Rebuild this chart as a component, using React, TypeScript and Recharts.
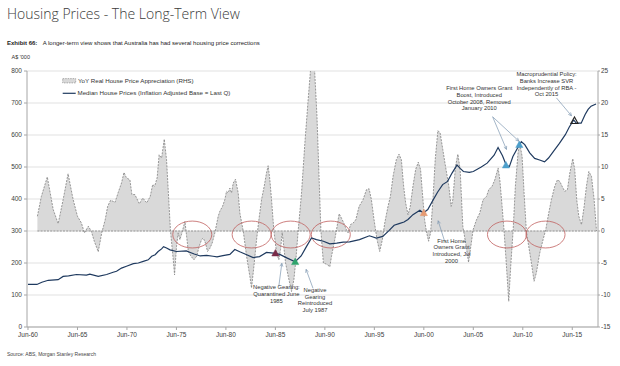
import React from 'react';
import { ComposedChart, Area, Line, XAxis, YAxis, CartesianGrid, ReferenceLine, ReferenceDot, ReferenceArea } from 'recharts';

const FONT = '"Liberation Sans Narrow", "Liberation Sans", Arial, sans-serif';

// YoY real house price appreciation (% , RHS)
const yoyYears = [
  1961.45, 1961.85, 1962.45, 1963.05, 1963.55, 1964.05, 1964.55, 1965.05, 1965.5, 1965.9,
  1966.2, 1966.6, 1966.9, 1967.2, 1967.6, 1967.95, 1968.3, 1968.55, 1968.85, 1969.3,
  1969.6, 1969.95, 1970.2, 1970.45, 1970.8, 1971.0, 1971.3, 1971.75, 1972.1, 1972.5,
  1972.85, 1973.1, 1973.3, 1973.55, 1973.75, 1974.0, 1974.27, 1974.5, 1974.9, 1975.18,
  1975.31, 1975.51, 1975.68, 1975.85, 1976.02, 1976.36, 1976.53, 1976.7, 1976.97, 1977.27,
  1977.54, 1977.8, 1978.04, 1978.21, 1978.44, 1978.64, 1978.88, 1979.11, 1979.38, 1979.72,
  1979.89, 1980.16, 1980.39, 1980.56, 1980.73, 1980.9, 1981.07, 1981.24, 1981.47, 1981.74,
  1981.91, 1982.25, 1982.59, 1982.92, 1983.09, 1983.33, 1983.6, 1983.83, 1984.1, 1984.37,
  1984.6, 1984.77, 1984.94, 1985.11, 1985.35, 1985.62, 1985.85, 1986.02, 1986.19, 1986.53,
  1986.8, 1987.13, 1987.37, 1987.57, 1987.8, 1988.14, 1988.48, 1988.81, 1989.3, 1989.7,
  1990.1, 1990.35, 1990.7, 1991.0, 1991.17, 1991.5, 1991.74, 1991.94, 1992.18, 1992.41,
  1992.68, 1992.85, 1993.09, 1993.36, 1993.62, 1993.96, 1994.36, 1994.7, 1994.97, 1995.2,
  1995.47, 1995.77, 1996.04, 1996.31, 1996.55, 1996.88, 1997.12, 1997.39, 1997.72, 1997.99,
  1998.23, 1998.46, 1998.66, 1998.9, 1999.13, 1999.4, 1999.67, 1999.94, 2000.17, 2000.41,
  2000.58, 2000.75, 2000.98, 2001.18, 2001.42, 2001.65, 2001.92, 2002.15, 2002.42, 2002.69,
  2003.03, 2003.26, 2003.43, 2003.7, 2003.94, 2004.17, 2004.44, 2004.78, 2005.02, 2005.25,
  2005.48, 2005.82, 2006.15, 2006.49, 2006.83, 2007.06, 2007.4, 2007.67, 2008.01, 2008.18,
  2008.41, 2008.61, 2008.85, 2009.08, 2009.28, 2009.52, 2009.75, 2010.02, 2010.19, 2010.43,
  2010.63, 2010.86, 2011.1, 2011.37, 2011.64, 2011.87, 2012.21, 2012.55, 2012.82, 2013.12,
  2013.39, 2013.73, 2014.0, 2014.24, 2014.47, 2014.74, 2015.01, 2015.25, 2015.55, 2015.75,
  2015.95, 2016.16, 2016.43, 2016.7, 2016.93, 2017.17, 2017.44, 2017.71, 2017.95,
];
const yoyValues = [
  2.3, 5.4, 8.45, 3.35, 1.15, 4.9, 8.95, 5.0, 2.3, 1.25,
  -0.3, 0.75, -0.05, -1.6, -3.25, -0.3, 1.75, 3.85, 4.8, 4.5,
  5.95, 7.5, 9.15, 8.3, 8.0, 5.7, 5.7, 4.25, 5.15, 4.4,
  5.4, 7.25, 7.0, 8.3, 11.9, 11.4, 14.35, 11.15, 0, -4.5,
  -6.85, -2.4, -0.3, -1.35, -0.5, 1.5, -0.8, -3.2, -3.95, -4.5,
  -3.95, -2.4, -1.35, -1.1, -1.9, -3.2, -2.7, -1.9, -0.3, 2.3,
  3.1, 3.85, 4.9, 6.2, 5.95, 6.7, 5.95, 7.5, 8.1, 5.95,
  2.8, 0, -3.95, -7.1, -8.9, -5.5, -1.35, 1.75, 4.9, 7.0,
  9.05, 10.2, 8.0, 4.9, 0, -3.45, -4.5, -2.9, -0.25, -5.0,
  -7.1, -9.45, -7.6, -4.5, 0, 5.95, 13.75, 20.5, 30, 18,
  0, -5.0, -5.2, -5.6, -3.95, -1.35, 0.75, 2.7, 2.0, 1.25,
  0.2, -0.3, 1.0, 1.25, 1.75, 3.85, 4.9, 6.45, 6.6, 4.9,
  1.75, -1.35, -3.2, -1.35, 1.25, 3.85, 5.4, 8.55, 11.15, 12.0,
  11.15, 7.0, 4.4, 2.55, 3.85, 7.0, 9.6, 10.75, 9.6, 4.9,
  1.75, 0, -1.6, -0.3, 4.9, 11.15, 15.7, 15.3, 12.7, 10.1,
  7.0, 3.85, 4.9, 10.1, 12.0, 9.6, 0.75, -2.4, -4.9, -2.4,
  0.2, 1.75, 2.8, 4.9, 5.4, 6.45, 7.0, 8.0, 9.85, 8.0,
  3.85, 0, -5.5, -11.0, -5.5, 0, 7.0, 12.2, 13.75, 11.65,
  5.95, 0, -2.4, -5.0, -7.85, -6.55, -3.45, -1.35, 0.2, 2.8,
  4.9, 7.0, 8.0, 7.75, 7.0, 6.2, 6.45, 9.05, 11.3, 9.6,
  4.9, 2.3, 1.0, 3.85, 7.0, 9.3, 8.55, 4.9, 0,
];

// Median house prices, inflation adjusted (A$ '000, LHS)
const priceYears = [
  1960.5, 1961.4, 1961.9, 1962.55, 1963.55, 1964.05, 1964.6, 1965.4, 1966.4, 1966.75,
  1967.6, 1968.45, 1969.1, 1969.45, 1969.95, 1970.45, 1971.15, 1971.65, 1972.15, 1972.65,
  1973.0, 1973.35, 1973.65, 1974.0, 1974.2, 1974.5, 1974.85, 1975.5, 1976.5, 1976.9,
  1977.3, 1977.9, 1978.55, 1979.2, 1979.6, 1980.2, 1980.9, 1981.4, 1981.9, 1982.6,
  1983.25, 1983.9, 1984.6, 1985.3, 1985.95, 1986.65, 1987.5, 1988.1, 1988.65, 1989.15,
  1989.65, 1990.35, 1991.0, 1991.7, 1992.35, 1993.0, 1994.0, 1995.0, 1995.7, 1996.35,
  1997.0, 1997.5, 1998.0, 1998.5, 1998.9, 1999.4, 2000.1, 2000.45, 2000.9, 2001.4,
  2001.9, 2002.4, 2002.9, 2003.35, 2003.85, 2004.2, 2004.5, 2005.1, 2005.5, 2006.3,
  2006.9, 2007.6, 2008.0, 2008.45, 2008.85, 2009.15, 2009.5, 2010.0, 2010.35, 2010.7,
  2011.2, 2011.7, 2012.2, 2012.7, 2013.1, 2013.6, 2014.2, 2014.8, 2015.2, 2015.65,
  2015.9, 2016.4, 2016.8, 2017.1, 2017.4, 2017.9,
];
const priceValues = [
  133, 133, 140, 146, 148, 158, 160, 164, 162, 165,
  158, 164, 171, 174, 184, 190, 198, 200, 205, 210,
  221, 226, 236, 244, 251, 247, 241, 236, 238, 233,
  228, 222, 224, 221, 219, 223, 227, 242, 235, 226,
  217, 220, 233, 231, 227, 216, 204, 222, 252, 278,
  273, 268, 260, 262, 265, 266, 273, 285, 278, 283,
  302, 318, 323, 328, 336, 351, 365, 356, 367, 395,
  422, 445, 455, 481, 506, 495, 486, 483, 486, 500,
  512, 537, 561, 535, 504, 502, 533, 561, 579, 570,
  544, 527, 522, 516, 528, 549, 574, 601, 625, 647,
  637, 637, 664, 680, 690, 697,
];

const xTicks = [1960.5, 1965.5, 1970.5, 1975.5, 1980.5, 1985.5, 1990.5, 1995.5, 2000.5, 2005.5, 2010.5, 2015.5];
const xTickLabels = ['Jun-60', 'Jun-65', 'Jun-70', 'Jun-75', 'Jun-80', 'Jun-85', 'Jun-90', 'Jun-95', 'Jun-00', 'Jun-05', 'Jun-10', 'Jun-15'];
const leftTicks = [0, 100, 200, 300, 400, 500, 600, 700, 800];
const rightTicks = [-15, -10, -5, 0, 5, 10, 15, 20, 25];

// policy markers on the price line
const markers = [
  { year: 1985.5, price: 231, color: '#7a2b48', hollow: false },
  { year: 1987.5, price: 204, color: '#2ea36c', hollow: false },
  { year: 2000.5, price: 357, color: '#e59a72', hollow: false },
  { year: 2008.8, price: 506, color: '#4d9fcb', hollow: false },
  { year: 2010.15, price: 570, color: '#4d9fcb', hollow: false },
  { year: 2015.72, price: 645, color: '#222', hollow: true },
];

// correction periods (centre year, centre value on RHS)
const circles = [1977.1, 1983.1, 1987.05, 1991.1, 2008.9, 2012.8];

const notes = [
  { year: 1985.6, price: 118, lines: ['Negative Gearing:', 'Quarantined June', '1985'] },
  { year: 1989.5, price: 110, lines: ['Negative', 'Gearing', 'Reintroduced', 'July 1987'] },
  { year: 2003.3, price: 264, lines: ['First Home', 'Owners Grant', 'Introduced, Jul', '2000'] },
  { year: 2006.1, price: 740, lines: ['First Home Owners Grant', 'Boost, Introduced', 'October 2008, Removed', 'January 2010'] },
  { year: 2012.9, price: 784, lines: ['Macroprudential Policy:', 'Banks Increase SVR', 'Independently of RBA -', 'Oct 2015'] },
];

const arrows = [
  { from: [1985.85, 128], to: [1986.15, 199] },
  { from: [1989.3, 121], to: [1988.6, 180] },
  { from: [2002.6, 268], to: [2001.95, 332] },
  { from: [2007.45, 657], to: [2008.85, 555] },
  { from: [2007.45, 657], to: [2010.1, 581] },
  { from: [2013.9, 716], to: [2015.42, 660] },
];

const rowMap = new Map<number, any>();
yoyYears.forEach((y, i) => {
  const r = rowMap.get(y) || { year: y };
  r.yoy = yoyValues[i];
  rowMap.set(y, r);
});
priceYears.forEach((y, i) => {
  const r = rowMap.get(y) || { year: y };
  r.price = priceValues[i];
  rowMap.set(y, r);
});
const chartData = Array.from(rowMap.values()).sort((a, b) => a.year - b.year);

const Triangle = ({ cx, cy, color, hollow }: any) => {
  const s = 3.6;
  const pts = `${cx},${cy - s} ${cx - s},${cy + s * 0.8} ${cx + s},${cy + s * 0.8}`;
  return <polygon points={pts} fill={hollow ? 'none' : color} stroke={color} strokeWidth={hollow ? 1.1 : 0.5} />;
};

const Ellipse = ({ x, y, width, height }: any) => (
  <ellipse cx={x + width / 2} cy={y + height / 2} rx={width / 2} ry={height / 2} fill="none" stroke="#c0605e" strokeWidth={0.8} />
);

const Note = ({ cx, cy, lines }: any) => (
  <text x={cx} y={cy} textAnchor="middle" fontSize={5.8} fill="#333" fontFamily={FONT}>
    {lines.map((l: string, i: number) => (
      <tspan key={i} x={cx} dy={i === 0 ? 0 : 6.7}>{l}</tspan>
    ))}
  </text>
);

const Arrow = ({ x1, y1, x2, y2 }: any) => {
  const ang = Math.atan2(y2 - y1, x2 - x1);
  const L = 3.5;
  const a = ang + Math.PI - 0.45;
  const b = ang + Math.PI + 0.45;
  return (
    <g>
      <line x1={x1} y1={y1} x2={x2} y2={y2} stroke="#7d97b0" strokeWidth={0.7} />
      <polyline
        points={`${x2 + L * Math.cos(a)},${y2 + L * Math.sin(a)} ${x2},${y2} ${x2 + L * Math.cos(b)},${y2 + L * Math.sin(b)}`}
        fill="none"
        stroke="#7d97b0"
        strokeWidth={0.7}
      />
    </g>
  );
};

const tickStyle = { fontSize: 6.5, fill: '#404040', fontFamily: FONT };

const App = () => {
  return (
    <div style={{ position: 'absolute', left: 0, top: 0, width: 620, height: 366, background: '#fff' }}>
      <ComposedChart width={620} height={366} data={chartData} margin={{ top: 71, right: 0, bottom: 24, left: 0 }}>
        <CartesianGrid yAxisId="left" vertical={false} stroke="#d9d9d9" strokeWidth={0.8} />
        <XAxis
          dataKey="year"
          type="number"
          domain={[1960.4, 2018.1]}
          ticks={xTicks}
          tickFormatter={(v: number) => xTickLabels[xTicks.indexOf(v)] || ''}
          height={15}
          tick={tickStyle}
          tickSize={3}
          stroke="#a6a6a6"
          interval={0}
        />
        <YAxis yAxisId="left" domain={[0, 800]} ticks={leftTicks} width={27} tick={tickStyle} tickSize={3} stroke="#a6a6a6" interval={0} />
        <YAxis
          yAxisId="right"
          orientation="right"
          domain={[-15, 25]}
          ticks={rightTicks}
          allowDataOverflow
          width={22}
          tick={tickStyle}
          tickSize={2}
          tickMargin={1}
          stroke="#a6a6a6"
          interval={0}
        />
        <Area
          yAxisId="right"
          dataKey="yoy"
          type="linear"
          connectNulls
          fill="#d9d9d9"
          fillOpacity={1}
          stroke="#808080"
          strokeWidth={0.8}
          strokeDasharray="2 1.2"
          isAnimationActive={false}
          dot={false}
          activeDot={false}
        />
        <ReferenceLine
          yAxisId="right"
          segment={[{ x: yoyYears[0], y: 0 }, { x: yoyYears[yoyYears.length - 1], y: 0 }]}
          stroke="#808080"
          strokeWidth={0.8}
          strokeDasharray="2 1.2"
        />
        {circles.map((c, i) => (
          <ReferenceArea key={'c' + i} yAxisId="right" x1={c - 1.97} x2={c + 1.97} y1={-2.65} y2={1.55} shape={Ellipse} />
        ))}
        <Line
          yAxisId="left"
          dataKey="price"
          type="linear"
          connectNulls
          stroke="#1f3a5f"
          strokeWidth={1.2}
          dot={false}
          activeDot={false}
          isAnimationActive={false}
        />
        {arrows.map((a, i) => (
          <ReferenceLine
            key={'a' + i}
            yAxisId="left"
            segment={[{ x: a.from[0], y: a.from[1] }, { x: a.to[0], y: a.to[1] }]}
            shape={Arrow}
          />
        ))}
        {markers.map((m, i) => (
          <ReferenceDot
            key={'m' + i}
            yAxisId="left"
            x={m.year}
            y={m.price}
            r={3}
            shape={(p: any) => <Triangle cx={p.cx} cy={p.cy} color={m.color} hollow={m.hollow} />}
          />
        ))}
        {notes.map((n, i) => (
          <ReferenceDot
            key={'n' + i}
            yAxisId="left"
            x={n.year}
            y={n.price}
            r={1}
            shape={(p: any) => <Note cx={p.cx} cy={p.cy} lines={n.lines} />}
          />
        ))}
      </ComposedChart>
      <svg width={620} height={366} style={{ position: 'absolute', left: 0, top: 0, pointerEvents: 'none' }}>
        <text x={7} y={19.3} fontSize={14} fontFamily='"Open Sans", sans-serif' fontWeight={300} fill="#3a3a3a">
          Housing Prices - The Long-Term View
        </text>
        <text x={7} y={45.3} fontSize={6} fontFamily={FONT} fill="#222">
          <tspan fontWeight="bold">Exhibit 66:</tspan>
          <tspan x={42.7}>A longer-term view shows that Australia has had several housing price corrections</tspan>
        </text>
        <text x={11.5} y={58.6} fontSize={5.5} fontFamily={FONT} fill="#333">A$ '000</text>
        <rect x={62.7} y={78.6} width={13} height={4.3} fill="#d9d9d9" stroke="#808080" strokeWidth={0.6} strokeDasharray="1.5 1" />
        <text x={78} y={82.8} fontSize={6.2} fontFamily={FONT} fill="#333">YoY Real House Price Appreciation (RHS)</text>
        <line x1={62.7} x2={75.7} y1={93.3} y2={93.3} stroke="#1f3a5f" strokeWidth={1.2} />
        <text x={77.5} y={95.4} fontSize={6.2} fontFamily={FONT} fill="#333">Median House Prices (Inflation Adjusted Base = Last Q)</text>
        <text x={7} y={355.5} fontSize={5} fontFamily={FONT} fill="#444">Source: ABS, Morgan Stanley Research</text>
      </svg>
    </div>
  );
};

export default App;
